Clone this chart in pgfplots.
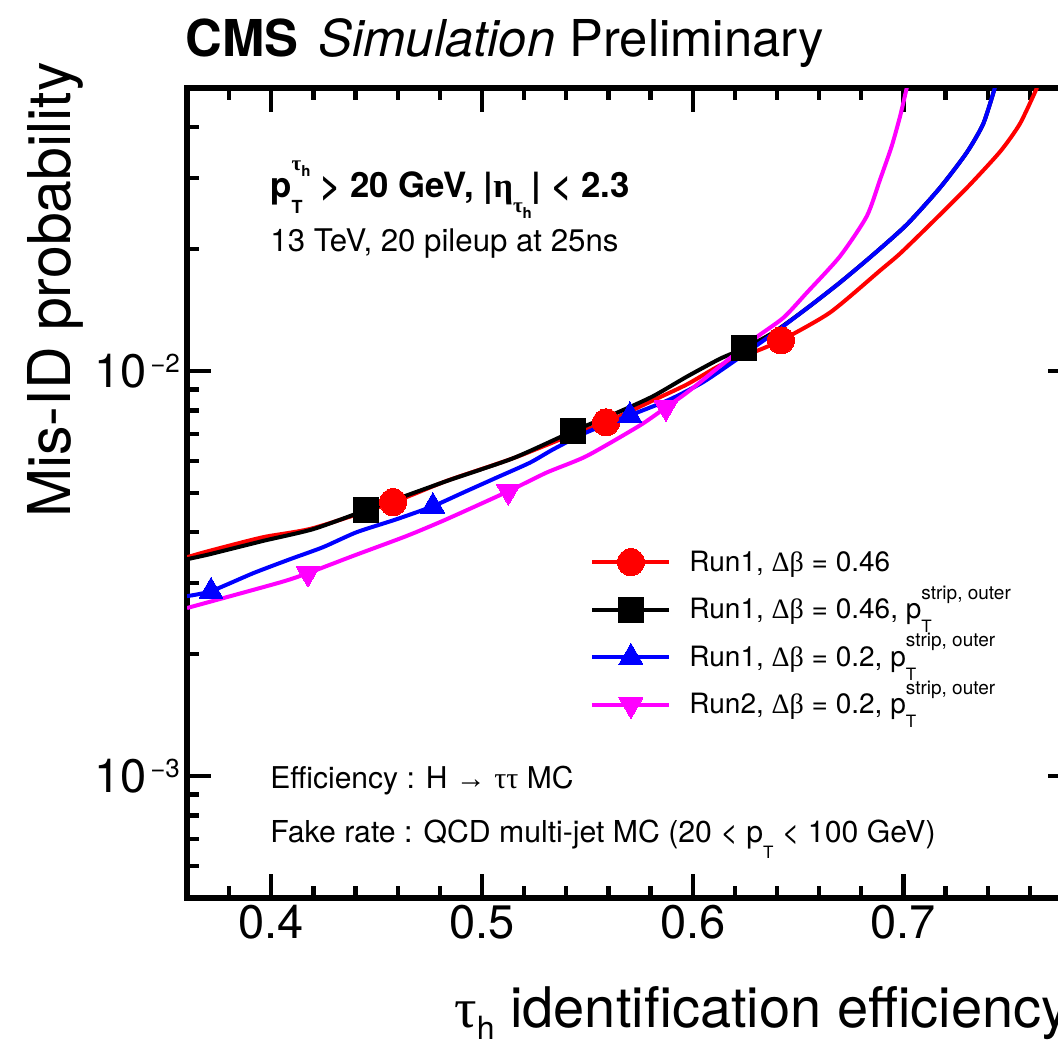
\documentclass[border=0pt]{standalone}
\usepackage{pgfplots}
\pgfplotsset{compat=1.18}
\usepackage{fontspec}
\setmainfont{TeX Gyre Heros}
\newfontfamily\greek{Liberation Serif}
\newcommand\gr[1]{{\greek #1}}
\newcommand\fs[1]{\fontsize{#1}{#1}\selectfont}
% stacked super/subscript: #1 sup, #2 sub, #3 raise, #4 drop
\newcommand\supsub[4]{\setbox0\hbox{\raisebox{#3}{#1}}\setbox2\hbox{\raisebox{-#4}{#2}}%
  \ifdim\wd0>\wd2 \rlap{\box2}\box0 \else\rlap{\box0}\box2 \fi}
\newcommand\ptso{p\supsub{\fs{9.5pt}strip, outer}{\fs{8.5pt}T}{0.7em}{0.5em}}

\definecolor{rred}{rgb}{1,0,0}
\definecolor{rblue}{rgb}{0,0,1}
\definecolor{rmag}{rgb}{1,0,1}

\begin{document}
\begin{tikzpicture}
\useasboundingbox (0,0) rectangle (529pt,525.5pt);
\clip (0,0) rectangle (529pt,525.5pt);
\begin{axis}[
  at={(93.5pt,76.5pt)}, anchor=south west,
  scale only axis, width=442.5pt, height=405pt,
  xmin=0.36, xmax=0.78,
  ymode=log, ymin=5e-4, ymax=5e-2,
  xtick={0.4,0.5,0.6,0.7}, xticklabels={0.4,0.5,0.6,0.7},
  minor xtick={0.38,0.42,0.44,0.46,0.48,0.52,0.54,0.56,0.58,0.62,0.64,0.66,0.68,0.72,0.74,0.76},
  ytick={0.001,0.01},
  yticklabels={{10\kern2pt\raisebox{7.5pt}{\fs{13pt}−3}},{10\kern2pt\raisebox{7.5pt}{\fs{13pt}−2}}},
  minor ytick={0.0006,0.0007,0.0008,0.0009,0.002,0.003,0.004,0.005,0.006,0.007,0.008,0.009,0.02,0.03,0.04},
  tick label style={font=\fs{23.5pt}},
  major tick length=12pt, minor tick length=6pt,
  tick style={black, line width=2.2pt},
  axis line style={line width=2.6pt},
  legend style={at={(axis description cs:0.4554,0.4386)}, anchor=north west,
    draw=none, fill=none, font=\fs{14pt}, inner sep=0pt,
    row sep=4.75pt, column sep=9pt,
    nodes={inner sep=0pt, text height=14pt, text depth=5pt}},
  legend cell align=left,
  legend image code/.code={\draw[mark repeat=2,mark phase=2,#1] plot coordinates {(0pt,0pt) (19.25pt,0pt) (38.5pt,0pt)};},
  curve/.style={line width=2pt, smooth, tension=0.4, forget plot},
]
% efficiency vs. mis-ID curves
\addplot[rred, curve] coordinates {
(0.36,0.003471) (0.3709,0.003602) (0.3961,0.003890) (0.4198,0.004094) (0.4578,0.004745)
(0.4834,0.005361) (0.5147,0.006091) (0.5427,0.006963) (0.5589,0.007472) (0.5812,0.008467)
(0.5973,0.009273) (0.6130,0.010329) (0.6286,0.011119) (0.6419,0.011904) (0.6652,0.013956)
(0.6889,0.017712) (0.6984,0.019509) (0.7126,0.023004) (0.7302,0.028379) (0.7459,0.034828)
(0.7553,0.040816) (0.7634,0.0501)};
\addplot[black, curve] coordinates {
(0.36,0.003432) (0.3709,0.003532) (0.3961,0.003809) (0.4198,0.004071) (0.4449,0.004534)
(0.4834,0.005356) (0.5147,0.006091) (0.5432,0.007103) (0.5655,0.007952) (0.5813,0.008676)
(0.5972,0.009687) (0.6130,0.010729) (0.6243,0.011376) (0.6383,0.012457) (0.6541,0.014277)
(0.6699,0.016548) (0.6857,0.019397) (0.7016,0.023004) (0.7174,0.028379) (0.7300,0.034620)
(0.7379,0.040816) (0.7434,0.0501)};
\addplot[rblue, curve] coordinates {
(0.36,0.002782) (0.3714,0.002862) (0.3915,0.003171) (0.4089,0.003432) (0.4245,0.003674)
(0.4405,0.004001) (0.4595,0.004308) (0.4767,0.004638) (0.4911,0.005013) (0.5070,0.005460)
(0.5228,0.005943) (0.5338,0.006410) (0.5497,0.007062) (0.5702,0.007775) (0.5892,0.008515)
(0.6050,0.009395) (0.6209,0.010687) (0.6383,0.012388) (0.6541,0.014277) (0.6699,0.016548)
(0.6857,0.019397) (0.7016,0.023004) (0.7174,0.028379) (0.7300,0.034620) (0.7379,0.040816)
(0.7434,0.0501)};
\addplot[rmag, curve] coordinates {
(0.36,0.002600) (0.4041,0.003007) (0.4174,0.003171) (0.4389,0.003498) (0.4643,0.003918)
(0.4832,0.004308) (0.5125,0.005050) (0.5307,0.005617) (0.5497,0.006171) (0.5750,0.007346)
(0.5873,0.008136) (0.5972,0.008845) (0.6130,0.010287) (0.6288,0.011973) (0.6430,0.013539)
(0.6541,0.015606) (0.6699,0.019212) (0.6826,0.024115) (0.6889,0.029706) (0.6944,0.035882)
(0.6984,0.042559) (0.7016,0.0501)};
% working points
\addplot[only marks, mark=*, mark size=6.75pt, mark options={fill=rred, draw=rred, line width=0pt}, forget plot]
  coordinates {(0.4578,0.004745) (0.5589,0.007472) (0.6419,0.011904)};
\addplot[only marks, mark=square*, mark size=6.25pt, mark options={fill=black, draw=black, line width=0pt}, forget plot]
  coordinates {(0.4449,0.004534) (0.5432,0.007103) (0.6243,0.011376)};
\addplot[only marks, mark=triangle*, mark size=6.9pt, mark options={fill=rblue, draw=rblue, line width=0pt}, forget plot]
  coordinates {(0.3714,0.002862) (0.4767,0.004638) (0.5702,0.007775)};
\addplot[only marks, mark=triangle*, mark size=6.9pt, mark options={rotate=180, fill=rmag, draw=rmag, line width=0pt}, forget plot]
  coordinates {(0.4174,0.003171) (0.5125,0.005050) (0.5873,0.008136)};
% legend
\addlegendimage{rred, line width=2pt, mark=*, mark size=6.75pt, mark options={fill=rred, line width=0pt}}
\addlegendentry{Run1, \gr{Δβ} = 0.46}
\addlegendimage{black, line width=2pt, mark=square*, mark size=6.25pt, mark options={fill=black, line width=0pt}}
\addlegendentry{Run1, \gr{Δβ} = 0.46, \ptso}
\addlegendimage{rblue, line width=2pt, mark=triangle*, mark size=6.9pt, mark options={fill=rblue, line width=0pt}}
\addlegendentry{Run1, \gr{Δβ} = 0.2, \ptso}
\addlegendimage{rmag, line width=2pt, mark=triangle*, mark size=6.9pt, mark options={rotate=180, fill=rmag, line width=0pt}}
\addlegendentry{Run2, \gr{Δβ} = 0.2, \ptso}
\end{axis}
% titles and annotations
\node[anchor=base west, inner sep=0pt, font=\fs{25.4pt}] at (92.5pt,497pt)
  {{\bfseries CMS}\hspace{10pt}{\itshape Simulation} Preliminary};
\node[rotate=90, anchor=base east, inner sep=0pt, font=\fs{29.5pt}] at (35pt,494.5pt) {Mis-ID probability};
\node[anchor=base west, inner sep=0pt, font=\fs{28pt}] at (227pt,12pt)
  {\gr{τ}\raisebox{-0.22em}{\fs{16pt}h} identification efficiency};
\node[anchor=base west, inner sep=0pt, font=\fs{17.4pt}\bfseries] at (135pt,426.5pt)
  {p\supsub{\fs{10.5pt}\gr{τ}\raisebox{-0.25em}{\fs{7.5pt}h}}{\fs{9pt}T}{0.78em}{0.45em} > 20 GeV, |\gr{η}\raisebox{-0.42em}{\fs{10.5pt}\gr{τ}\raisebox{-0.3em}{\fs{7.5pt}h}}| < 2.3};
\node[anchor=base west, inner sep=0pt, font=\fs{15.6pt}] at (135pt,399.5pt) {13 TeV, 20 pileup at 25ns};
\node[anchor=base west, inner sep=0pt, font=\fs{15pt}] at (135pt,131.5pt) {Efficiency : H \gr{→} \gr{ττ} MC};
\node[anchor=base west, inner sep=0pt, font=\fs{15.1pt}] at (135pt,104.5pt)
  {Fake rate : QCD multi-jet MC (20 < p\raisebox{-0.53em}{\fs{8.5pt}T} < 100 GeV)};
\end{tikzpicture}
\end{document}
